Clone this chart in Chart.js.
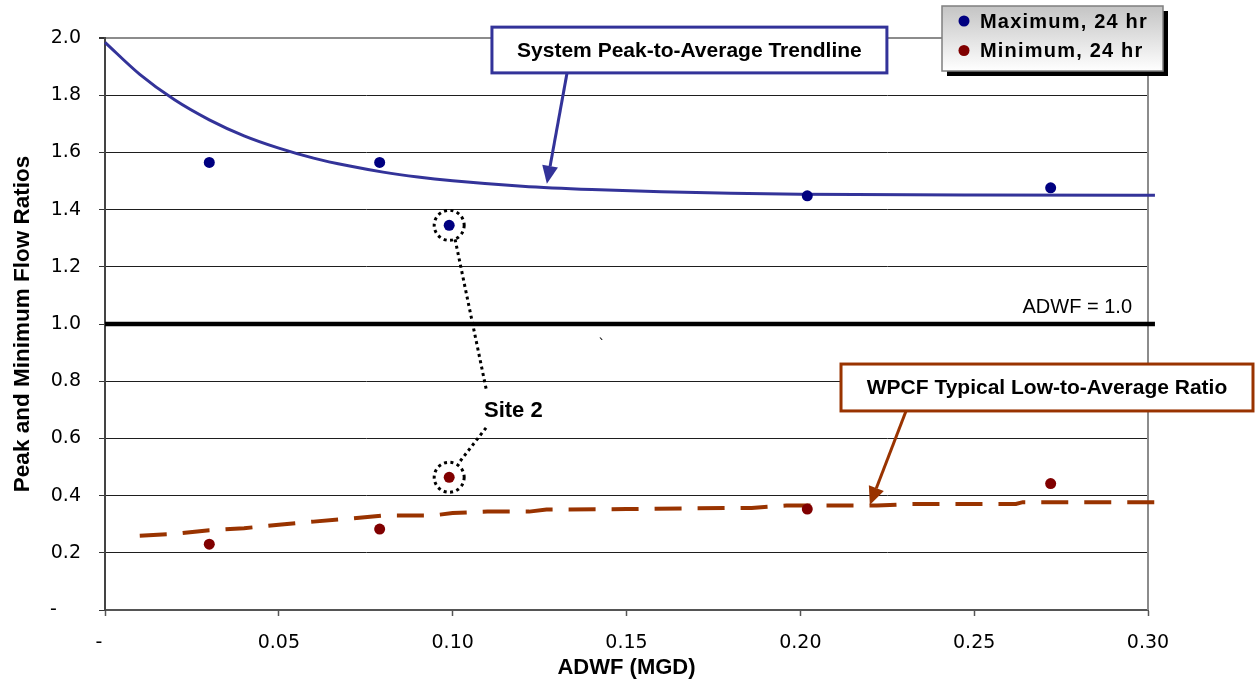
<!DOCTYPE html>
<html>
<head>
<meta charset="utf-8">
<title>Peak and Minimum Flow Ratios</title>
<script src="https://cdn.jsdelivr.net/npm/chart.js@4"></script>
<style>
  html, body { margin: 0; padding: 0; background: #fff; }
  #wrap { width: 1255px; height: 683px; }
</style>
</head>
<body>
<div id="wrap"><canvas id="flowChart" width="1255" height="683"></canvas></div>
<script>
// metered sites: average dry weather flow and 24 hr peak / low ratios
const adwf = [0.030, 0.079, 0.099, 0.202, 0.272];
const maxRatio = [1.565, 1.565, 1.345, 1.448, 1.476];
const minRatio = [0.230, 0.283, 0.464, 0.353, 0.442];

// system peak-to-average trendline
const trendX = [0, 0.01, 0.02, 0.03, 0.04, 0.05, 0.06, 0.07, 0.08, 0.09, 0.10, 0.12, 0.14, 0.16, 0.18, 0.20, 0.25, 0.302];
const trendY = [1.985, 1.873, 1.784, 1.714, 1.658, 1.615, 1.580, 1.553, 1.531, 1.514, 1.501, 1.482, 1.470, 1.462, 1.457, 1.454, 1.451, 1.450];

// WPCF typical low-to-average ratio
const wpcfX = [0.010, 0.020, 0.030, 0.040, 0.050, 0.060, 0.070, 0.080, 0.094, 0.100, 0.110, 0.122, 0.127, 0.150, 0.180, 0.186, 0.196, 0.222, 0.232, 0.262, 0.264, 0.302];
const wpcfY = [0.260, 0.266, 0.279, 0.286, 0.298, 0.309, 0.319, 0.330, 0.330, 0.339, 0.344, 0.344, 0.351, 0.353, 0.357, 0.357, 0.365, 0.365, 0.371, 0.371, 0.377, 0.377];

// ADWF = 1.0 reference
const refX = [0, 0.302];
const refY = [1.0, 1.0];

const xTickValues = [0, 0.05, 0.10, 0.15, 0.20, 0.25, 0.30];
const xTickLabels = ["-", "0.05", "0.10", "0.15", "0.20", "0.25", "0.30"];
const yTickValues = [0, 0.2, 0.4, 0.6, 0.8, 1.0, 1.2, 1.4, 1.6, 1.8, 2.0];
const yTickLabels = ["-", "0.2", "0.4", "0.6", "0.8", "1.0", "1.2", "1.4", "1.6", "1.8", "2.0"];

const BLUE = "#333399";
const BROWN = "#993300";
const FIG = "\u2007";
const BOLD = '"Liberation Sans", Arial, sans-serif';

function pts(xs, ys) {
  return xs.map((x, i) => ({ x, y: ys[i] }));
}

function arrow(ctx, x1, y1, x2, y2, color) {
  const ang = Math.atan2(y2 - y1, x2 - x1);
  const len = 18, half = 8;
  const bx = x2 - len * Math.cos(ang), by = y2 - len * Math.sin(ang);
  ctx.save();
  ctx.strokeStyle = color;
  ctx.fillStyle = color;
  ctx.lineWidth = 3;
  ctx.beginPath();
  ctx.moveTo(x1, y1);
  ctx.lineTo(bx, by);
  ctx.stroke();
  ctx.beginPath();
  ctx.moveTo(x2, y2);
  ctx.lineTo(bx + half * Math.sin(ang), by - half * Math.cos(ang));
  ctx.lineTo(bx - half * Math.sin(ang), by + half * Math.cos(ang));
  ctx.closePath();
  ctx.fill();
  ctx.restore();
}

function callout(ctx, l, t, r, b, text, color) {
  ctx.save();
  ctx.fillStyle = "#fff";
  ctx.fillRect(l, t, r - l, b - t);
  ctx.strokeStyle = color;
  ctx.lineWidth = 3;
  ctx.strokeRect(l, t, r - l, b - t);
  ctx.fillStyle = "#000";
  ctx.font = "bold 21px " + BOLD;
  ctx.textAlign = "center";
  ctx.textBaseline = "middle";
  ctx.fillText(text, (l + r) / 2, (t + b) / 2 + 1);
  ctx.restore();
}

function dotted(ctx, draw) {
  ctx.save();
  ctx.strokeStyle = "#000";
  ctx.lineWidth = 3;
  ctx.setLineDash([3, 3.5]);
  ctx.beginPath();
  draw();
  ctx.stroke();
  ctx.restore();
}

const frame = {
  id: "frame",
  beforeDatasetsDraw(chart) {
    const { ctx, chartArea: a } = chart;
    ctx.save();
    ctx.strokeStyle = "#8c8c8c";
    ctx.lineWidth = 2;
    ctx.beginPath();
    ctx.moveTo(a.right, a.top);
    ctx.lineTo(a.right, a.bottom);
    ctx.stroke();
    ctx.restore();
  }
};

const notes = {
  id: "notes",
  afterDatasetsDraw(chart) {
    const { ctx } = chart;
    const X = v => chart.scales.x.getPixelForValue(v);
    const Y = v => chart.scales.y.getPixelForValue(v);

    // ADWF = 1.0 label
    ctx.save();
    ctx.font = '20px "Liberation Sans"';
    ctx.fillStyle = "#000";
    ctx.textAlign = "right";
    ctx.textBaseline = "middle";
    ctx.fillText("ADWF = 1.0", X(0.2954), Y(1.056));
    ctx.font = '14px "DejaVu Sans"';
    ctx.textAlign = "center";
    ctx.fillText("`", X(0.1429), Y(0.925));
    ctx.restore();

    // trendline callout
    arrow(ctx, X(0.1329), Y(1.878), X(0.1271), Y(1.490), BLUE);
    callout(ctx, X(0.1113), Y(2.038), X(0.2249), Y(1.878), "System Peak-to-Average Trendline", BLUE);

    // WPCF callout
    arrow(ctx, X(0.2304), Y(0.696), X(0.2200), Y(0.367), BROWN);
    callout(ctx, X(0.2117), Y(0.860), X(0.3302), Y(0.696), "WPCF Typical Low-to-Average Ratio", BROWN);

    // Site 2 markers
    const sx = X(adwf[2]);
    dotted(ctx, () => ctx.arc(sx, Y(maxRatio[2]), 15, 0, Math.PI * 2));
    dotted(ctx, () => ctx.arc(sx, Y(minRatio[2]), 15, 0, Math.PI * 2));
    dotted(ctx, () => {
      ctx.moveTo(X(0.1007), Y(1.296));
      ctx.lineTo(X(0.1098), Y(0.763));
      ctx.moveTo(X(0.1096), Y(0.637));
      ctx.lineTo(X(0.1018), Y(0.515));
    });
    ctx.save();
    ctx.font = "bold 22px " + BOLD;
    ctx.fillStyle = "#000";
    ctx.textAlign = "left";
    ctx.textBaseline = "middle";
    ctx.fillText("Site 2", X(0.1090), Y(0.696));
    ctx.restore();
  },
  afterDraw(chart) {
    // legend box with drop shadow
    const { ctx, chartArea: a } = chart;
    const l = a.right - 206, t = 6, w = 221, h = 65;
    ctx.save();
    ctx.fillStyle = "#000";
    ctx.fillRect(l + 5, t + 5, w, h);
    const g = ctx.createLinearGradient(0, t, 0, t + h);
    g.addColorStop(0, "#c4c4c4");
    g.addColorStop(1, "#ffffff");
    ctx.fillStyle = g;
    ctx.fillRect(l, t, w, h);
    ctx.strokeStyle = "#7f7f7f";
    ctx.lineWidth = 1.5;
    ctx.strokeRect(l, t, w, h);
    ctx.font = "bold 20px " + BOLD;
    ctx.letterSpacing = "1.2px";
    ctx.textBaseline = "middle";
    ctx.textAlign = "left";
    chart.data.datasets.slice(0, 2).forEach((ds, i) => {
      const cy = t + 15 + i * 29.5;
      ctx.fillStyle = ds.pointBackgroundColor;
      ctx.beginPath();
      ctx.arc(l + 22, cy, 5.5, 0, Math.PI * 2);
      ctx.fill();
      ctx.fillStyle = "#000";
      ctx.fillText(ds.label, l + 38, cy + 1);
    });
    // letterSpacing is not always part of the saved state
    ctx.letterSpacing = "0px";
    ctx.restore();
  }
};

new Chart(document.getElementById("flowChart"), {
  type: "scatter",
  data: {
    datasets: [
      {
        label: "Maximum, 24 hr",
        data: pts(adwf, maxRatio),
        pointBackgroundColor: "#000080",
        pointBorderWidth: 0,
        pointRadius: 5.5
      },
      {
        label: "Minimum, 24 hr",
        data: pts(adwf, minRatio),
        pointBackgroundColor: "#800000",
        pointBorderWidth: 0,
        pointRadius: 5.5
      },
      {
        label: "System Peak-to-Average Trendline",
        data: pts(trendX, trendY),
        showLine: true,
        borderColor: BLUE,
        borderWidth: 3,
        cubicInterpolationMode: "monotone",
        pointRadius: 0,
        clip: 10
      },
      {
        label: "WPCF Typical Low-to-Average Ratio",
        data: pts(wpcfX, wpcfY),
        showLine: true,
        borderColor: BROWN,
        borderWidth: 4,
        borderDash: [27, 16],
        borderCapStyle: "butt",
        tension: 0,
        pointRadius: 0,
        clip: 10
      },
      {
        label: "ADWF = 1.0",
        data: pts(refX, refY),
        showLine: true,
        borderColor: "#000",
        borderWidth: 4.5,
        pointRadius: 0,
        clip: 10
      }
    ]
  },
  options: {
    responsive: false,
    animation: false,
    layout: { padding: { top: 38, right: 107, left: 0, bottom: 0 } },
    plugins: {
      legend: { display: false },
      tooltip: { enabled: false }
    },
    scales: {
      x: {
        type: "linear",
        min: 0,
        max: 0.30,
        afterBuildTicks: s => { s.ticks = xTickValues.map(v => ({ value: v })); },
        afterFit: s => { s.height = 73; },
        ticks: {
          callback: (v, i) => xTickLabels[i] === "-" ? "-" + FIG : xTickLabels[i],
          font: { family: "DejaVu Sans", size: 19 },
          color: "#000",
          padding: 16,
          maxRotation: 0,
          autoSkip: false
        },
        grid: { drawOnChartArea: false, drawTicks: true, tickLength: 6, tickColor: "#555", tickWidth: 1.5 },
        border: { color: "#555", width: 2 },
        title: {
          display: true,
          text: "ADWF (MGD)",
          font: { family: "Liberation Sans", size: 22, weight: "bold" },
          color: "#000",
          padding: 2
        }
      },
      y: {
        min: 0,
        max: 2.0,
        afterBuildTicks: s => { s.ticks = yTickValues.map(v => ({ value: v })); },
        afterFit: s => { s.width = 105; },
        ticks: {
          callback: (v, i) => yTickLabels[i] === "-" ? "-" + FIG + FIG : yTickLabels[i],
          font: { family: "DejaVu Sans", size: 19 },
          color: "#000",
          padding: 18
        },
        grid: {
          color: c => (c.tick && c.tick.value >= 2 ? "#8c8c8c" : "#1e1e1e"),
          lineWidth: c => (c.tick && c.tick.value >= 2 ? 2 : 1),
          tickLength: 6,
          tickColor: "#333"
        },
        border: { color: "#444", width: 2 },
        title: {
          display: true,
          text: "Peak and Minimum Flow Ratios",
          font: { family: "Liberation Sans", size: 22.5, weight: "bold" },
          color: "#000",
          padding: 9
        }
      }
    }
  },
  plugins: [frame, notes]
});
</script>
</body>
</html>
